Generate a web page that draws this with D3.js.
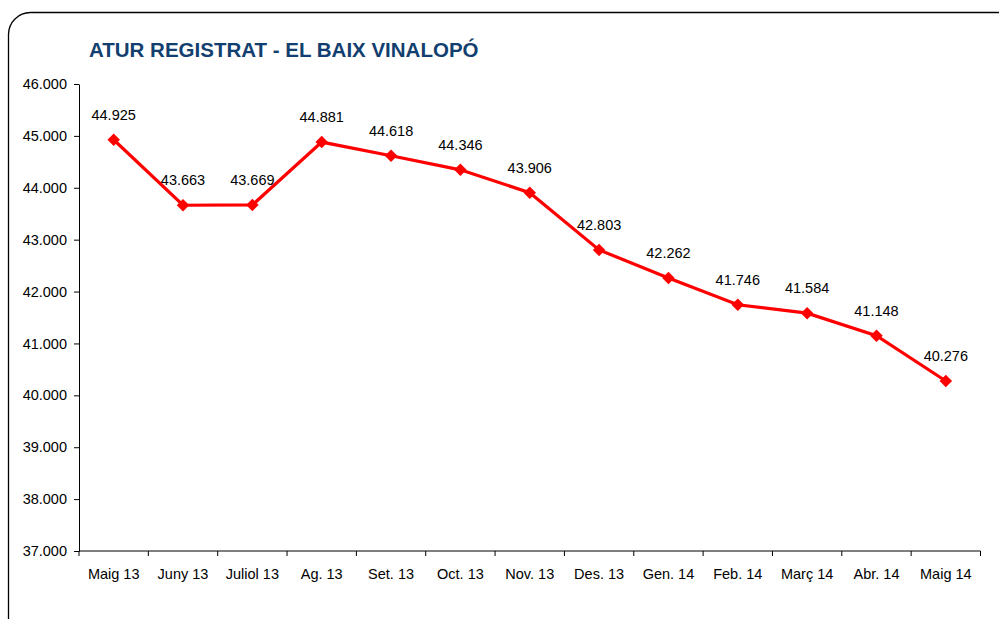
<!DOCTYPE html>
<html>
<head>
<meta charset="utf-8">
<script src="https://cdn.jsdelivr.net/npm/d3@7"></script>
<style>
  html, body { margin: 0; padding: 0; background: #fff; }
  svg { display: block; font-family: "Liberation Sans", Arial, sans-serif; }
  svg text { font-family: "Liberation Sans", Arial, sans-serif; }
</style>
</head>
<body>
<svg id="chart" width="999" height="619"></svg>
<script>
// Registered unemployment, El Baix Vinalopó, May 2013 – May 2014
const months = ["Maig 13", "Juny 13", "Juliol 13", "Ag. 13", "Set. 13", "Oct. 13", "Nov. 13",
                "Des. 13", "Gen. 14", "Feb. 14", "Març 14", "Abr. 14", "Maig 14"];
const unemployed = [44925, 43663, 43669, 44881, 44618, 44346, 43906,
                    42803, 42262, 41746, 41584, 41148, 40276];
const yTicks = [37000, 38000, 39000, 40000, 41000, 42000, 43000, 44000, 45000, 46000];

const fmt = v => d3.format(",")(v).replace(/,/g, ".");
const fmtTick = v => d3.format(",.0f")(v).replace(/,/g, ".");

const svg = d3.select("#chart");
const margin = { left: 79, right: 19, top: 84, bottom: 68 };
const W = 999, H = 619;
const FS = "14.5px";

// Rounded frame around the chart
svg.append("rect")
  .attr("x", 8.5).attr("y", 12.5)
  .attr("width", 1020).attr("height", 640)
  .attr("rx", 22).attr("ry", 22)
  .attr("fill", "none").attr("stroke", "#000").attr("stroke-width", 1.3);

svg.append("text")
  .attr("x", 89).attr("y", 57)
  .style("font-size", "20.5px").style("font-weight", "bold")
  .attr("fill", "#123f6f")
  .text("ATUR REGISTRAT - EL BAIX VINALOPÓ");

const x = d3.scaleBand().domain(months)
  .range([margin.left, W - margin.right + 0.5]);
const y = d3.scaleLinear().domain([37000, 46000])
  .range([H - margin.bottom, margin.top]);

// Y axis
const yAxis = svg.append("g")
  .attr("transform", `translate(${margin.left},0)`)
  .call(d3.axisLeft(y).tickValues(yTicks).tickFormat(fmtTick).tickSize(5).tickSizeOuter(0));
yAxis.select(".domain").attr("stroke", "#000");
yAxis.selectAll("text")
  .attr("fill", "#000").attr("x", -12)
  .style("font-size", FS);

// X axis: ticks on category boundaries
const xAxis = svg.append("g")
  .attr("transform", `translate(0,${y(37000)})`);
xAxis.append("line")
  .attr("x1", x.range()[0]).attr("x2", x.range()[1])
  .attr("stroke", "#000");
const bounds = months.map(m => x(m)).concat([x(months[months.length - 1]) + x.bandwidth()]);
xAxis.selectAll("line.tick").data(bounds).join("line")
  .attr("class", "tick")
  .attr("x1", d => d).attr("x2", d => d)
  .attr("y1", 0).attr("y2", 5)
  .attr("stroke", "#000");
xAxis.selectAll("text").data(months).join("text")
  .attr("x", d => x(d) + x.bandwidth() / 2)
  .attr("y", 28)
  .attr("text-anchor", "middle")
  .style("font-size", FS)
  .text(d => d);

// Line + diamond markers
const pts = months.map((m, i) => ({ m, v: unemployed[i] }));
const cx = d => x(d.m) + x.bandwidth() / 2;

svg.append("path")
  .datum(pts)
  .attr("fill", "none")
  .attr("stroke", "#ff0000")
  .attr("stroke-width", 3.2)
  .attr("d", d3.line().x(cx).y(d => y(d.v)));

svg.selectAll("path.marker").data(pts).join("path")
  .attr("class", "marker")
  .attr("transform", d => `translate(${cx(d)},${y(d.v)})`)
  .attr("d", d3.symbol(d3.symbolDiamond2 || d3.symbolDiamond, 100))
  .attr("fill", "#ff0000");

svg.selectAll("text.val").data(pts).join("text")
  .attr("class", "val")
  .attr("x", cx)
  .attr("y", d => y(d.v) - 20)
  .attr("text-anchor", "middle")
  .style("font-size", FS)
  .text(d => fmt(d.v));
</script>
</body>
</html>
